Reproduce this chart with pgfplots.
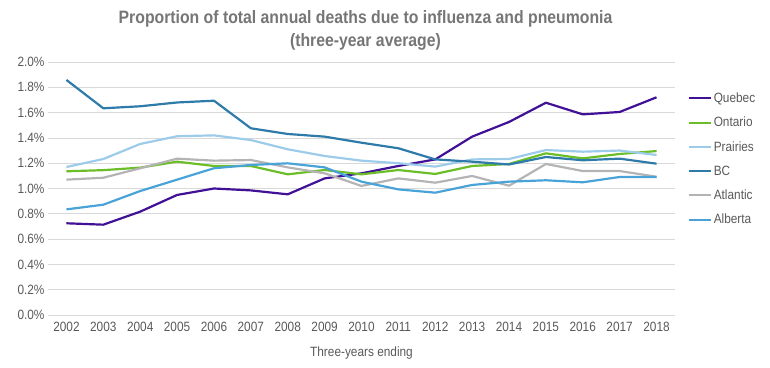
\documentclass[border=0pt]{standalone}
\usepackage{pgfplots}
\pgfplotsset{compat=1.18}
\usepackage{pgfplotstable}
\usepackage{fontspec}
\setmainfont[FakeStretch=0.88]{Liberation Sans}
\definecolor{cQuebec}{RGB}{64,16,150}
\definecolor{cOntario}{RGB}{108,190,40}
\definecolor{cPrairies}{RGB}{157,203,234}
\definecolor{cBC}{RGB}{46,123,170}
\definecolor{cAtlantic}{RGB}{180,180,180}
\definecolor{cAlberta}{RGB}{74,163,216}
\definecolor{txt}{RGB}{89,89,89}
\definecolor{ttl}{RGB}{118,118,118}
\definecolor{grd}{RGB}{217,217,217}
\pgfplotstableread{
year Quebec Ontario Prairies BC Atlantic Alberta
2002 0.725 1.136 1.170 1.858 1.070 0.835
2003 0.714 1.145 1.233 1.634 1.085 0.872
2004 0.817 1.165 1.352 1.650 1.160 0.980
2005 0.949 1.212 1.413 1.680 1.236 1.070
2006 1.000 1.178 1.420 1.694 1.220 1.160
2007 0.985 1.178 1.383 1.476 1.225 1.186
2008 0.954 1.112 1.310 1.431 1.167 1.199
2009 1.080 1.146 1.257 1.410 1.120 1.167
2010 1.120 1.112 1.220 1.362 1.020 1.054
2011 1.178 1.146 1.200 1.318 1.080 0.993
2012 1.230 1.115 1.173 1.230 1.046 0.967
2013 1.410 1.178 1.230 1.212 1.099 1.028
2014 1.526 1.194 1.233 1.190 1.022 1.054
2015 1.678 1.278 1.304 1.249 1.194 1.065
2016 1.586 1.238 1.291 1.223 1.138 1.049
2017 1.605 1.273 1.300 1.236 1.138 1.091
2018 1.721 1.296 1.265 1.196 1.093 1.091
}\data
\begin{document}
\begin{tikzpicture}
\useasboundingbox (-48bp,-53bp) rectangle (722bp,315bp);
\begin{axis}[
  at={(0,0)}, anchor=south west,
  scale only axis,
  width=627bp, height=253bp,
  xmin=2001.5, xmax=2018.5,
  ymin=0, ymax=2.0,
  xtick={2002,...,2018},
  ytick={0,0.2,...,2.01},
  xticklabel style={/pgf/number format/1000 sep={}},
  /pgf/number format/assume math mode=true,
  yticklabel={\pgfmathprintnumber[fixed,fixed zerofill,precision=1]{\tick}\%},
  axis line style={draw=none},
  major tick length=0pt,
  ymajorgrids,
  grid style={grd, line width=0.8pt},
  tick label style={font=\fontsize{13.5}{15}\selectfont, text=txt},
  yticklabel style={xshift=0bp},
  xticklabel style={yshift=-4bp},
  xlabel={Three-years ending},
  xlabel style={font=\fontsize{13.5}{15}\selectfont, text=txt, yshift=-8bp},
  title={Proportion of total annual deaths due to influenza and pneumonia\\(three-year average)},
  title style={font=\bfseries\fontsize{18}{23}\selectfont, text=ttl, align=center, yshift=2bp, xshift=4bp},
  legend style={at={(1.015,0.895)}, anchor=north west, draw=none, fill=none,
    font=\fontsize{13.5}{15}\selectfont, text=txt, row sep=9.1bp,
    /tikz/every even column/.append style={column sep=0pt}},
  legend cell align=left,
  legend image code/.code={\draw[#1, line width=2.2pt] (0bp,0bp) -- (22bp,0bp);},
  every axis plot/.append style={line width=2.2pt, line join=round},
]
\addplot[cQuebec, no marks] table[x=year, y=Quebec] {\data};
\addplot[cOntario, no marks] table[x=year, y=Ontario] {\data};
\addplot[cPrairies, no marks] table[x=year, y=Prairies] {\data};
\addplot[cBC, no marks] table[x=year, y=BC] {\data};
\addplot[cAtlantic, no marks] table[x=year, y=Atlantic] {\data};
\addplot[cAlberta, no marks] table[x=year, y=Alberta] {\data};
\legend{Quebec,Ontario,Prairies,BC,Atlantic,Alberta}
\end{axis}
\end{tikzpicture}
\end{document}
